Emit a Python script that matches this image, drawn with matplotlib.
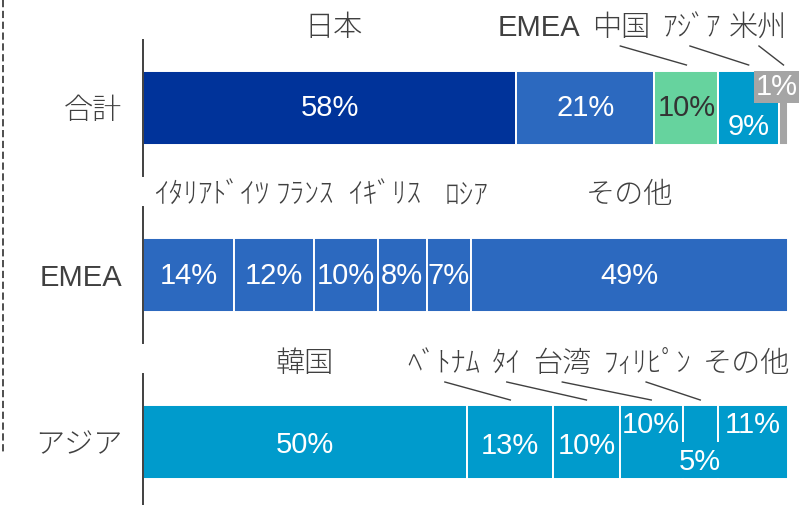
import matplotlib
matplotlib.use("Agg")
import matplotlib.pyplot as plt
from matplotlib.lines import Line2D
from matplotlib.transforms import Bbox, TransformedBbox
import numpy as np

plt.rcParams['font.family'] = ['Liberation Sans', 'Noto Sans CJK JP', 'DejaVu Sans']

# ---------------- data ----------------
row_labels = ["合計", "EMEA", "アジア"]

total_names = ["日本", "EMEA", "中国", "ｱｼﾞｱ", "米州"]
total_values = [57.9, 21.4, 9.9, 9.4, 1.4]

emea_names = ["ｲﾀﾘｱ", "ﾄﾞｲﾂ", "ﾌﾗﾝｽ", "ｲｷﾞﾘｽ", "ﾛｼｱ", "その他"]
emea_values = [14.1, 12.4, 9.9, 7.6, 6.8, 49.2]

asia_names = ["韓国", "ﾍﾞﾄﾅﾑ", "ﾀｲ", "台湾", "ﾌｨﾘﾋﾟﾝ", "その他"]
asia_values = [50.3, 13.3, 10.3, 9.8, 5.4, 10.9]

# ---------------- styles / layout ----------------
C_JP, C_EMEA, C_CN, C_ASIA, C_AM = "#00339A", "#2C69BF", "#66D39E", "#009BCC", "#A5A5A5"
total_colors = [C_JP, C_EMEA, C_CN, C_ASIA, C_AM]
emea_colors = [C_EMEA] * 6
asia_colors = [C_ASIA] * 6
TXT = "#404040"

W, H = 799, 505
left_px, right_px = 143, 788
panels_px = [(40, 176), (207, 343), (374, 510)]
BAR_H = 74

# name-label positions (x in data %), y offset (px, negative = above bar centre)
total_name_x = [29.5, 61.4, 74.1, 85.0, 95.3]
emea_name_x = [6.2, 15.2, 25.1, 37.4, 50.1, 75.5]
asia_name_x = [25.1, 46.7, 56.4, 65.0, 78.3, 93.5]
name_dy = [-80, -80, -78]

# leader lines: index of segment -> start x
total_leaders = {2: 74.0, 3: 84.8, 4: 95.5}
asia_leaders = {1: 46.8, 2: 56.4, 3: 65.0, 4: 78.0}
leader_dy = [(-62, -43), None, (-60, -42)]

# value-label vertical offsets (px); "box" entries get a filled background
total_val_dy = [0, 0, 0, 19, "box"]
emea_val_dy = [1, 1, 1, 1, 1, 1]
asia_val_dy = [3, 4, 4, -17, ("fill", 19.5), -17]

fig = plt.figure(figsize=(W / 100, H / 100), dpi=100)

rows = [
    (total_names, total_values, total_colors, total_name_x, total_leaders, total_val_dy),
    (emea_names, emea_values, emea_colors, emea_name_x, {}, emea_val_dy),
    (asia_names, asia_values, asia_colors, asia_name_x, asia_leaders, asia_val_dy),
]

FS = 21


def has_cjk(s):
    return any(ord(ch) > 0x2E80 for ch in s)


for i, (names, vals, cols, nx, leaders, vdy) in enumerate(rows):
    top, bot = panels_px[i]
    ax = fig.add_axes([left_px / W, (H - bot) / H, (right_px - left_px) / W, (bot - top) / H])
    half = (bot - top) / 2
    ax.set_xlim(0, 100)
    ax.set_ylim(half, -half)
    lefts = np.concatenate([[0], np.cumsum(vals)[:-1]])
    ax.barh([0] * len(vals), vals, left=lefts, height=BAR_H, color=cols,
            edgecolor="white", linewidth=1.4)
    centers = lefts + np.array(vals) / 2
    for s in ["top", "right", "bottom"]:
        ax.spines[s].set_visible(False)
    ax.spines["left"].set_color(TXT)
    ax.spines["left"].set_linewidth(1.4)
    ax.set_xticks([])
    ax.set_yticks([0])
    ax.set_yticklabels([row_labels[i]], fontsize=FS, color=TXT,
                       fontweight="light" if has_cjk(row_labels[i]) else "normal")
    ax.tick_params(axis="y", length=0, pad=15)

    # value labels
    for j, v in enumerate(vals):
        txt = f"{round(v):d}%"
        d = vdy[j]
        if d == "box":
            ax.text(98.3, -21, txt, ha="center", va="center", fontsize=FS, color="white",
                    clip_on=False,
                    bbox=dict(boxstyle="square,pad=0.06", facecolor=C_AM, edgecolor="none"))
            continue
        if isinstance(d, tuple):
            t = ax.text(centers[j], d[1], txt, ha="center", va="center", fontsize=FS,
                        color="white", clip_on=True,
                        bbox=dict(boxstyle="square,pad=0.2", facecolor=cols[j],
                                  edgecolor="none"))
            t.set_clip_box(TransformedBbox(Bbox([[0, -BAR_H / 2 + 1.5], [100, BAR_H / 2 - 1.5]]),
                                           ax.transData))
            continue
        color = "#333333" if cols[j] == C_CN else "white"
        ax.text(centers[j], d, txt, ha="center", va="center", fontsize=FS,
                color=color, clip_on=False)

    # name labels
    for j, nm in enumerate(names):
        ax.text(nx[j], name_dy[i], nm, ha="center", va="center", fontsize=FS,
                color=TXT, clip_on=False,
                fontweight="light" if has_cjk(nm) else "normal")

    # leader lines
    for j, sx in leaders.items():
        y0, y1 = leader_dy[i]
        ax.plot([sx, centers[j]], [y0, y1], color=TXT, lw=1.0, clip_on=False)

# dashed separator on the far left
fig.add_artist(Line2D([3 / W, 3 / W], [1, 1 - 455 / H], transform=fig.transFigure,
                      color=TXT, lw=1.3, linestyle=(0, (4, 2))))

fig.savefig("out.png", dpi=100)
